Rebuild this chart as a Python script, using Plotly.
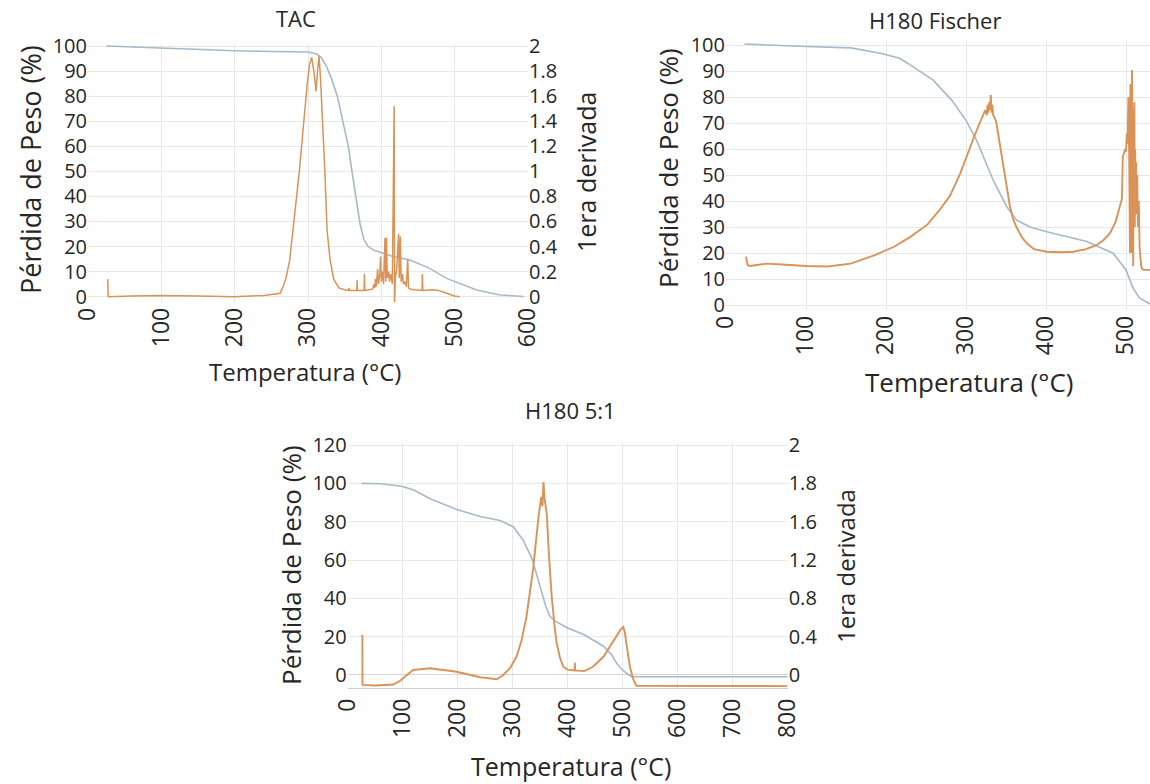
import plotly.graph_objects as go

# ---------------- DATA ----------------
# TAC: TGA weight loss (%) vs temperature (°C)
tac_tga_pts = [(25, 100), (60, 99.6), (100, 99.2), (150, 98.6), (200, 98.1), (250, 97.8),
               (300, 97.6), (312, 96.8), (318, 95.5), (325, 92), (332, 87), (340, 80),
               (348, 70), (355, 60), (361, 48), (366, 38), (371, 29), (376, 23), (382, 20),
               (390, 18.5), (416, 16), (439, 14.6), (466, 11.3), (489, 7.3), (510, 4.8),
               (530, 2.7), (562, 0.7), (594, 0.1)]
# TAC: first derivative (right axis)
tac_dtg_pts = [(27, 0.14), (27.5, 0.0), (60, 0.005), (100, 0.01), (150, 0.005), (200, 0.0),
               (240, 0.01), (262, 0.027), (266, 0.08), (270, 0.15), (275, 0.29), (280, 0.55),
               (284, 0.8), (288, 0.99), (292, 1.25), (295, 1.47), (299, 1.7), (302, 1.85),
               (305, 1.91), (308, 1.8), (311, 1.64), (313, 1.8), (315, 1.92), (317, 1.75),
               (320, 1.4), (323, 1.0), (326, 0.53), (330, 0.3), (335, 0.14), (342, 0.07),
               (350, 0.055), (355.5, 0.05), (356, 0.07), (356.5, 0.05), (366.5, 0.05),
               (367, 0.13), (367.5, 0.05), (376.5, 0.05), (377, 0.18), (377.5, 0.05),
               (388, 0.06), (390, 0.1), (391, 0.07), (392, 0.14), (393, 0.08), (395, 0.22),
               (396, 0.1), (398, 0.18), (399, 0.32), (400, 0.12), (402, 0.2), (403, 0.1),
               (405, 0.47), (406, 0.12), (407, 0.47), (408, 0.15), (410, 0.2), (411, 0.12),
               (413, 0.18), (415, 0.1), (417.5, 1.52), (418, -0.08), (419, 0.15), (421, 0.22),
               (423.5, 0.5), (424.5, 0.15), (426, 0.48), (427, 0.12), (429, 0.18), (430, 0.1),
               (432, 0.12), (434, 0.08), (436, 0.3), (437, 0.07), (440, 0.06), (448, 0.055),
               (455.5, 0.05), (456, 0.18), (456.5, 0.05), (470, 0.055), (478, 0.05),
               (485, 0.035), (492, 0.02), (500, 0.005), (507, 0.0)]

# H180 Fischer: TGA (%)
fis_tga_pts = [(23, 100.4), (60, 99.9), (100, 99.4), (156, 98.9), (193, 96.8), (217, 94.9),
               (227, 93), (259, 86.5), (282, 78.8), (300, 71), (313, 63.5), (334, 48),
               (351, 37.8), (363, 32.7), (380, 30), (401, 28.2), (451, 24.4), (484, 19.9),
               (500, 13.5), (509, 6.4), (517, 2.6), (530, 0.4)]
# H180 Fischer: first derivative (drawn on the % scale)
fis_dtg_pts = [(25, 18.6), (27, 15.4), (30, 15), (40, 15.5), (51, 15.9), (75, 15.5), (100, 15),
               (127, 14.8), (156, 15.9), (186, 19.2), (210, 22.4), (231, 26.3), (252, 31),
               (268, 37), (280, 42), (292, 50), (303, 59), (313, 67), (320, 72), (324, 75),
               (326, 73), (327, 77), (328, 74), (329, 78), (330, 75), (331, 80.8), (332, 74),
               (333, 77), (334, 73), (336, 72), (338, 70), (342, 62), (347, 52), (351, 44),
               (355, 37.8), (359, 33), (363, 30), (370, 26), (376, 23.7), (385, 21.5),
               (401, 20.5), (420, 20.3), (434, 20.5), (450, 21.5), (463, 23), (472, 25),
               (480, 27.6), (487, 32), (493, 39), (495, 41), (496, 57), (497, 58), (499, 60),
               (500, 59), (501, 66), (502, 62), (503, 80), (504, 57), (505, 20), (505.5, 85),
               (506, 45), (506.5, 84), (507, 20), (507.5, 90.4), (508, 50), (508.5, 82),
               (509, 15), (509.5, 75), (510, 45), (510.5, 78), (511, 30), (511.5, 60),
               (512, 40), (512.5, 55), (513, 35), (514, 50), (515, 30), (516, 40), (517, 22),
               (518, 18), (519, 15), (520, 14), (522, 13.5), (524, 13.5), (527, 13.5),
               (530, 13.5)]

# H180 5:1: TGA (%)
h51_tga_pts = [(25, 100), (60, 99.8), (98, 98.5), (120, 96.5), (150, 92), (198, 86.4),
               (241, 82.7), (277, 80.6), (301, 77.4), (319, 70.4), (335, 60.9), (350, 46),
               (360, 36), (368, 30.5), (378, 28), (400, 24.5), (430, 21), (465, 15),
               (480, 10.5), (489, 6.1), (498, 3), (507, 0.9), (516, -0.9), (800, -0.9)]
# H180 5:1: first derivative (drawn on the % scale, right labels below)
h51_dtg_pts = [(26.6, 20.9), (27, -5.2), (50, -5.5), (83, -5), (95, -3), (107, 0), (119, 2.6),
               (150, 3.5), (198, 1.7), (241, -1.2), (271, -2.2), (283, 0), (296, 4),
               (307, 9.6), (316, 18), (325, 30.4), (337, 54.8), (347, 82.6), (352, 93),
               (354, 88), (356, 100.7), (358, 92), (362, 84), (366, 62), (371, 40.8),
               (376, 26), (380, 16.5), (386, 9), (392, 4.3), (400, 2.8), (410, 2.4),
               (412.5, 2.4), (413, 6.4), (413.5, 2.4), (430, 2.0), (446, 4.3), (465, 9.5),
               (480, 16.5), (492, 21.9), (497, 24), (501, 25), (504, 22), (508, 14),
               (513, 4.3), (519, -2), (525, -5.7), (800, -5.8)]

# Tick labels
h51_left_ticks = [0, 20, 40, 60, 80, 100, 120]
h51_right_ticktext = ["0", "0.4", "0.8", "1.2", "1.6", "1.8", "2"]
temp_ticks_600 = [0, 100, 200, 300, 400, 500, 600]
temp_ticks_800 = [0, 100, 200, 300, 400, 500, 600, 700, 800]

titles = ["TAC", "H180 Fischer", "H180 5:1"]
y_title = "Pérdida de Peso (%)"
y2_title = "1era derivada"
x_title = "Temperatura (°C)"

# ---------------- STYLE ----------------
W, H = 1150, 784
FONT = "Open Sans"
TXT = "#262626"
GRID = "#e8e8e8"
BLUE = "#a7b9c8"
ORANGE = "#db9257"


def fx(p):
    return p / W


def fy(p):
    return 1 - p / H


def xs(pts):
    return [p[0] for p in pts]


def ys(pts):
    return [p[1] for p in pts]


fig = go.Figure()

# TAC
fig.add_trace(go.Scatter(x=xs(tac_tga_pts), y=ys(tac_tga_pts), mode="lines",
                         line=dict(color=BLUE, width=1.6), xaxis="x", yaxis="y"))
fig.add_trace(go.Scatter(x=xs(tac_dtg_pts), y=ys(tac_dtg_pts), mode="lines",
                         line=dict(color=ORANGE, width=1.5), xaxis="x", yaxis="y2"))
# Fischer
fig.add_trace(go.Scatter(x=xs(fis_tga_pts), y=ys(fis_tga_pts), mode="lines",
                         line=dict(color=BLUE, width=1.6), xaxis="x2", yaxis="y3"))
fig.add_trace(go.Scatter(x=xs(fis_dtg_pts), y=ys(fis_dtg_pts), mode="lines",
                         line=dict(color=ORANGE, width=1.9), xaxis="x2", yaxis="y4"))
# 5:1
fig.add_trace(go.Scatter(x=xs(h51_tga_pts), y=ys(h51_tga_pts), mode="lines",
                         line=dict(color=BLUE, width=1.6), xaxis="x3", yaxis="y5"))
fig.add_trace(go.Scatter(x=xs(h51_dtg_pts), y=ys(h51_dtg_pts), mode="lines",
                         line=dict(color=ORANGE, width=1.9), xaxis="x3", yaxis="y6"))

tickfont = dict(family=FONT, size=20, color=TXT)
xtickfont = dict(family=FONT, size=23, color=TXT)
common_x = dict(showgrid=True, gridcolor=GRID, gridwidth=1, zeroline=False, showline=False,
                tickangle=-90, tickfont=xtickfont, ticks="", tickmode="array",
                automargin=False)
common_y = dict(showgrid=True, gridcolor=GRID, gridwidth=1, zeroline=False, showline=False,
                tickfont=tickfont, ticks="", automargin=False)

fig.update_layout(
    width=W, height=H,
    margin=dict(l=0, r=0, t=0, b=0, autoexpand=False),
    paper_bgcolor="white", plot_bgcolor="white",
    showlegend=False,
    font=dict(family=FONT, color=TXT),
    # TAC
    xaxis=dict(common_x, domain=[fx(88), fx(528)], range=[0, 600], anchor="y",
               tickvals=temp_ticks_600),
    yaxis=dict(common_y, domain=[fy(302.2), fy(43.5)], range=[-2.2, 101], anchor="x",
               tickmode="linear", tick0=0, dtick=10),
    yaxis2=dict(common_y, overlaying="y", side="right", anchor="x", showgrid=False,
                range=[-0.044, 2.02], tickmode="linear", tick0=0, dtick=0.2),
    # Fischer
    xaxis2=dict(common_x, domain=[fx(726), 1.0], range=[0, 530], anchor="y3",
                tickvals=temp_ticks_600[:6]),
    yaxis3=dict(common_y, domain=[fy(310.2), fy(39.8)], range=[-2, 102], anchor="x2",
                tickmode="linear", tick0=0, dtick=10),
    yaxis4=dict(overlaying="y3", side="right", anchor="x2", range=[-2, 102], visible=False,
                automargin=False),
    # 5:1
    xaxis3=dict(common_x, domain=[fx(347.7), fx(787.7)], range=[0, 800], anchor="y5",
                tickvals=temp_ticks_800, showline=True, linecolor="#d0d0d0", linewidth=1),
    yaxis5=dict(common_y, domain=[fy(688.4), fy(443.1)], range=[-7, 121], anchor="x3",
                tickmode="array", tickvals=h51_left_ticks, zeroline=True,
                zerolinecolor="#d6d6d6", zerolinewidth=1),
    yaxis6=dict(common_y, overlaying="y5", side="right", anchor="x3", showgrid=False,
                range=[-7, 121], tickmode="array", tickvals=h51_left_ticks,
                ticktext=h51_right_ticktext),
)

ann = []


def text(x, y, s, size, angle=0):
    ann.append(dict(x=fx(x), y=fy(y), xref="paper", yref="paper", text=s, showarrow=False,
                    xanchor="center", yanchor="middle", textangle=angle,
                    font=dict(family=FONT, size=size, color=TXT)))


# subplot titles
text(296, 18, titles[0], 22)
text(935, 20, titles[1], 22)
text(570, 410, titles[2], 22)
# axis titles TAC
text(30, 170, y_title, 27, -90)
text(586, 172, y2_title, 25, -90)
text(305, 371, x_title, 24)
# Fischer
text(668, 168, y_title, 26, -90)
text(969, 382, x_title, 26)
# 5:1
text(291, 565, y_title, 26, -90)
text(845, 566, y2_title, 24, -90)
text(571, 766, x_title, 25)

fig.update_layout(annotations=ann)

fig.write_html("out.html")
